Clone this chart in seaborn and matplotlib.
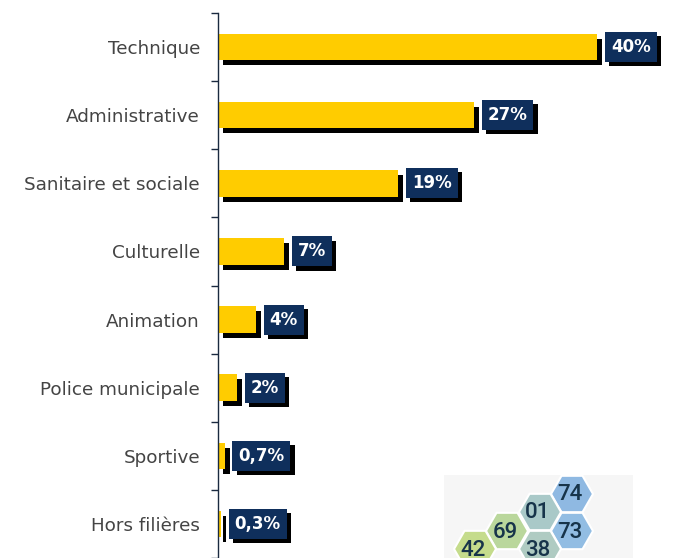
import matplotlib
matplotlib.use("Agg")
import matplotlib.pyplot as plt
import matplotlib.patheffects as pe
from matplotlib.patches import RegularPolygon, Rectangle
import numpy as np
import pandas as pd
import seaborn as sns

categories = ["Technique", "Administrative", "Sanitaire et sociale", "Culturelle",
              "Animation", "Police municipale", "Sportive", "Hors filières"]
values = [40, 27, 19, 7, 4, 2, 0.7, 0.3]
labels = ["40%", "27%", "19%", "7%", "4%", "2%", "0,7%", "0,3%"]

logo_codes = ["74", "73", "01", "38", "69", "42"]

sns.set_theme(style="white")
plt.rcParams['font.family'] = ['DejaVu Sans']

fig = plt.figure(figsize=(6.79, 5.58), dpi=100)
ax = fig.add_axes([218 / 679, 0.0, 1 - 218 / 679, 545 / 558])

df = pd.DataFrame({"cat": categories, "val": values})
sns.barplot(data=df, x="val", y="cat", orient="h", color="#FFCC00",
            saturation=1, width=0.39, ax=ax)
for p in ax.patches:
    p.set_edgecolor("none")
    p.set_path_effects([pe.SimplePatchShadow(offset=(3.6, -3.6), shadow_rgbFace="black", alpha=1.0),
                        pe.Normal()])

ax.set_xlim(0, 48.65)
ax.set_ylim(7.4, -0.5)
ax.set_xlabel("")
ax.set_ylabel("")
ax.set_xticks([])
for s in ["top", "right", "bottom"]:
    ax.spines[s].set_visible(False)
ax.spines["left"].set_color("#1a2a40")
ax.spines["left"].set_linewidth(1.0)

ax.set_yticks(range(len(categories)))
ax.set_yticklabels(categories, fontfamily="DejaVu Sans", fontsize=13.2, color="#444444")
ax.tick_params(axis="y", which="major", length=0, pad=13)
ax.set_yticks(np.arange(-0.5, len(categories), 1.0), minor=True)
ax.tick_params(axis="y", which="minor", length=5, width=1, color="#1a2a40", left=True)

for i, (v, lab) in enumerate(zip(values, labels)):
    t = ax.text(v + 1.45, i, lab, ha="left", va="center", color="white",
                fontsize=12, fontweight="bold",
                bbox=dict(boxstyle="square,pad=0.36", fc="#0f2f5c", ec="none"))
    t.get_bbox_patch().set_path_effects([
        pe.SimplePatchShadow(offset=(3, -3), shadow_rgbFace="black", alpha=1.0),
        pe.Normal()])

# decorative logo
lax = fig.add_axes([0, 0, 1, 1], zorder=5)
lax.patch.set_alpha(0)
lax.set_xlim(0, 679)
lax.set_ylim(558, 0)
lax.axis("off")
lax.add_patch(Rectangle((444, 475), 189, 83, fc="#f6f6f6", ec="none"))
hex_pos = [(572, 494), (572, 531), (540, 512), (540, 549), (507, 531), (475, 549)]
hex_col = ["#8fb9e2", "#92bde3", "#a9c9c8", "#afcbc2", "#bad79c", "#c5dc8c"]
for (x, y), c, code in zip(hex_pos, hex_col, logo_codes):
    lax.add_patch(RegularPolygon((x, y), numVertices=6, radius=21,
                                 orientation=np.pi / 6, fc=c, ec="white", lw=1.5))
    lax.text(x - 2, y + 1, code, ha="center", va="center", fontsize=16,
             color="#17344a", fontfamily="Roboto", fontweight="medium")

fig.savefig("out.png", dpi=100)
